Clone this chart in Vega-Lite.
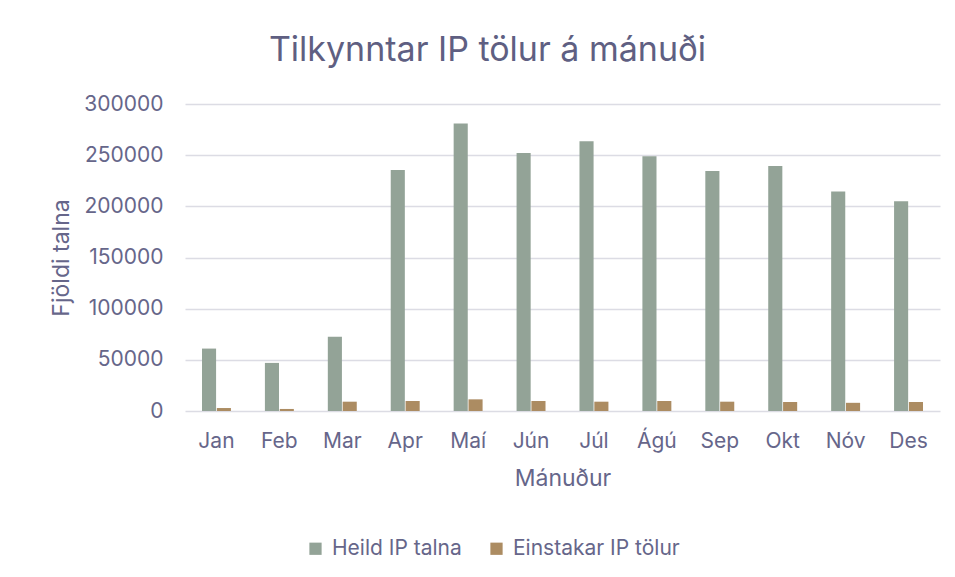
{
  "$schema": "https://vega.github.io/schema/vega-lite/v6.json",
  "autosize": "none",
  "width": 755,
  "height": 307,
  "padding": {"left": 185, "top": 104, "right": 15, "bottom": 166},
  "background": "white",
  "config": {
    "font": "Inter",
    "view": {"stroke": null},
    "axis": {"labelColor": "#66668a", "titleColor": "#66668a", "labelFont": "Inter", "titleFont": "Inter"}
  },
  "title": {
    "text": "Tilkynntar IP tölur á mánuði",
    "fontSize": 34,
    "fontWeight": "normal",
    "color": "#5f5f82",
    "font": "Inter",
    "anchor": "middle",
    "dx": -75,
    "offset": 25
  },
  "data": {
    "values": [
      {"month": "Jan", "series": "Heild IP talna", "value": 61000},
      {"month": "Feb", "series": "Heild IP talna", "value": 47000},
      {"month": "Mar", "series": "Heild IP talna", "value": 72500},
      {"month": "Apr", "series": "Heild IP talna", "value": 235500},
      {"month": "Maí", "series": "Heild IP talna", "value": 281000},
      {"month": "Jún", "series": "Heild IP talna", "value": 252000},
      {"month": "Júl", "series": "Heild IP talna", "value": 263500},
      {"month": "Ágú", "series": "Heild IP talna", "value": 249000},
      {"month": "Sep", "series": "Heild IP talna", "value": 234500},
      {"month": "Okt", "series": "Heild IP talna", "value": 239500},
      {"month": "Nóv", "series": "Heild IP talna", "value": 214500},
      {"month": "Des", "series": "Heild IP talna", "value": 205000},
      {"month": "Jan", "series": "Einstakar IP tölur", "value": 2900},
      {"month": "Feb", "series": "Einstakar IP tölur", "value": 2000},
      {"month": "Mar", "series": "Einstakar IP tölur", "value": 9100},
      {"month": "Apr", "series": "Einstakar IP tölur", "value": 9800},
      {"month": "Maí", "series": "Einstakar IP tölur", "value": 11400},
      {"month": "Jún", "series": "Einstakar IP tölur", "value": 9800},
      {"month": "Júl", "series": "Einstakar IP tölur", "value": 9100},
      {"month": "Ágú", "series": "Einstakar IP tölur", "value": 9800},
      {"month": "Sep", "series": "Einstakar IP tölur", "value": 9100},
      {"month": "Okt", "series": "Einstakar IP tölur", "value": 8800},
      {"month": "Nóv", "series": "Einstakar IP tölur", "value": 8000},
      {"month": "Des", "series": "Einstakar IP tölur", "value": 8800}
    ]
  },
  "mark": {"type": "bar"},
  "encoding": {
    "x": {
      "field": "month",
      "type": "nominal",
      "sort": ["Jan", "Feb", "Mar", "Apr", "Maí", "Jún", "Júl", "Ágú", "Sep", "Okt", "Nóv", "Des"],
      "scale": {"paddingInner": 0.54, "paddingOuter": 0.27},
      "axis": {
        "title": "Mánuður",
        "labelAngle": 0,
        "labelFontSize": 21,
        "titleFontSize": 23,
        "titleFontWeight": "normal",
        "ticks": false,
        "domain": false,
        "labelPadding": 19,
        "titlePadding": 16
      }
    },
    "xOffset": {
      "field": "series",
      "type": "nominal",
      "sort": ["Heild IP talna", "Einstakar IP tölur"],
      "scale": {"paddingInner": 0.05}
    },
    "y": {
      "field": "value",
      "type": "quantitative",
      "scale": {"domain": [0, 300000], "nice": false},
      "axis": {
        "title": "Fjöldi talna",
        "values": [0, 50000, 100000, 150000, 200000, 250000, 300000],
        "format": "d",
        "labelFontSize": 21,
        "titleFontSize": 23,
        "titleFontWeight": "normal",
        "ticks": false,
        "domain": false,
        "labelPadding": 22,
        "titlePadding": 10,
        "gridColor": "#dcdce4",
        "gridWidth": 1.5
      }
    },
    "color": {
      "field": "series",
      "type": "nominal",
      "sort": ["Heild IP talna", "Einstakar IP tölur"],
      "scale": {"domain": ["Heild IP talna", "Einstakar IP tölur"], "range": ["#93a397", "#ac8c62"]},
      "legend": {
        "title": null,
        "orient": "none",
        "direction": "horizontal",
        "legendX": 120,
        "legendY": 434,
        "symbolType": "square",
        "symbolSize": 150,
        "symbolStrokeWidth": 0,
        "labelFontSize": 21,
        "labelColor": "#66668a",
        "labelFont": "Inter",
        "labelLimit": 400,
        "columnPadding": 24,
        "labelOffset": 6
      }
    }
  }
}
